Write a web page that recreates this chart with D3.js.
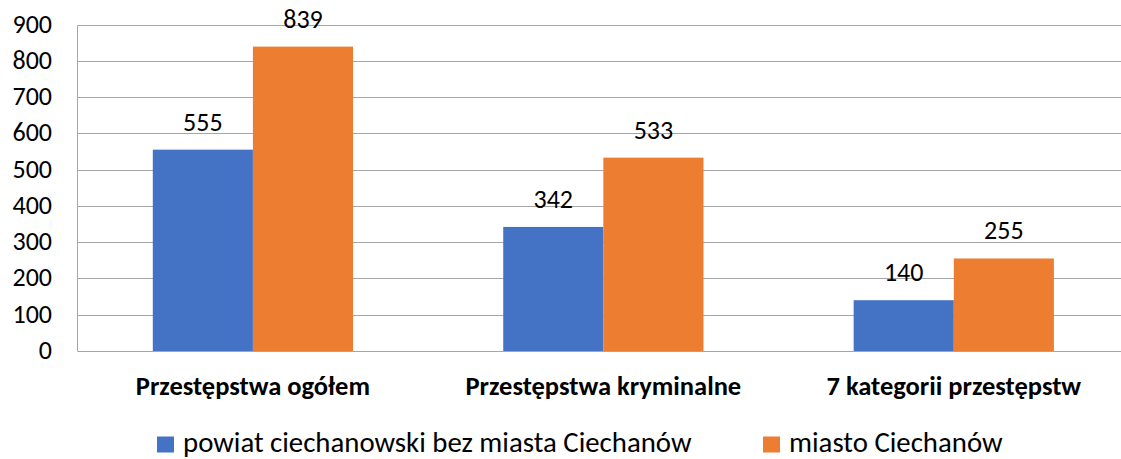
<!DOCTYPE html>
<html><head><meta charset="utf-8">
<script src="https://cdn.jsdelivr.net/npm/d3@7"></script>
<style>body{margin:0;background:#fff}svg{display:block}text{font-family:Carlito,Lato,"Open Sans",sans-serif;fill:#000}</style>
</head><body><svg id="c" width="1121" height="459"></svg>
<script>
const categories = ["Przestępstwa ogółem", "Przestępstwa kryminalne", "7 kategorii przestępstw"];
const seriesNames = ["powiat ciechanowski bez miasta Ciechanów", "miasto Ciechanów"];
const powiatValues = [555, 342, 140];
const miastoValues = [839, 533, 255];
const yTicks = [0, 100, 200, 300, 400, 500, 600, 700, 800, 900];
const colors = ["#4472C4", "#ED7D31"];

(function () {
const svg = d3.select("#c");
const pLeft = 77.7, pRight = 1129, pTop = 24.5, pBottom = 351;
const x = d3.scaleBand().domain(categories).range([pLeft, pRight]).paddingInner(0).paddingOuter(0);
const y = d3.scaleLinear().domain([0, 900]).range([pBottom, pTop]);
const bandW = x.bandwidth();
const inner = d3.scaleBand().domain([0, 1]).range([bandW * 0.75 / 3.5, bandW * 2.75 / 3.5]);

svg.append("g").selectAll("line").data(yTicks).join("line")
  .attr("x1", pLeft).attr("x2", pRight)
  .attr("y1", d => Math.round(y(d)) + 0.5).attr("y2", d => Math.round(y(d)) + 0.5)
  .attr("stroke", "#a6a6a6").attr("stroke-width", 1);
svg.append("line").attr("x1", 77.5).attr("x2", 77.5).attr("y1", Math.round(y(900)) + 0.5).attr("y2", Math.round(y(0)) + 0.5)
  .attr("stroke", "#a6a6a6");

svg.append("g").selectAll("text").data(yTicks).join("text")
  .attr("x", 52).attr("y", d => y(d) + 8)
  .attr("text-anchor", "end").style("font-size", "26px").text(d => d);

const series = [powiatValues, miastoValues];
series.forEach((vals, si) => {
  const g = svg.append("g");
  g.selectAll("rect").data(vals).join("rect")
    .attr("x", (d, i) => x(categories[i]) + inner(si))
    .attr("width", inner.bandwidth())
    .attr("y", d => y(d)).attr("height", d => y(0) - y(d))
    .attr("fill", colors[si]);
  g.selectAll("text").data(vals).join("text")
    .attr("x", (d, i) => x(categories[i]) + inner(si) + inner.bandwidth() / 2)
    .attr("y", d => y(d) - 19)
    .attr("text-anchor", "middle").style("font-size", "26px").text(d => d);
});

svg.append("g").selectAll("text").data(categories).join("text")
  .attr("x", d => x(d) + bandW / 2).attr("y", 395)
  .attr("text-anchor", "middle").style("font-size", "26.5px").style("font-weight", "bold").text(d => d);

const legX = [157, 763];
seriesNames.forEach((n, i) => {
  svg.append("rect").attr("x", legX[i]).attr("y", 436.5).attr("width", 17).attr("height", 16).attr("fill", colors[i]);
  svg.append("text").attr("x", legX[i] + 26).attr("y", 452).style("font-size", "28.8px").text(n);
});
})();
</script></body></html>
